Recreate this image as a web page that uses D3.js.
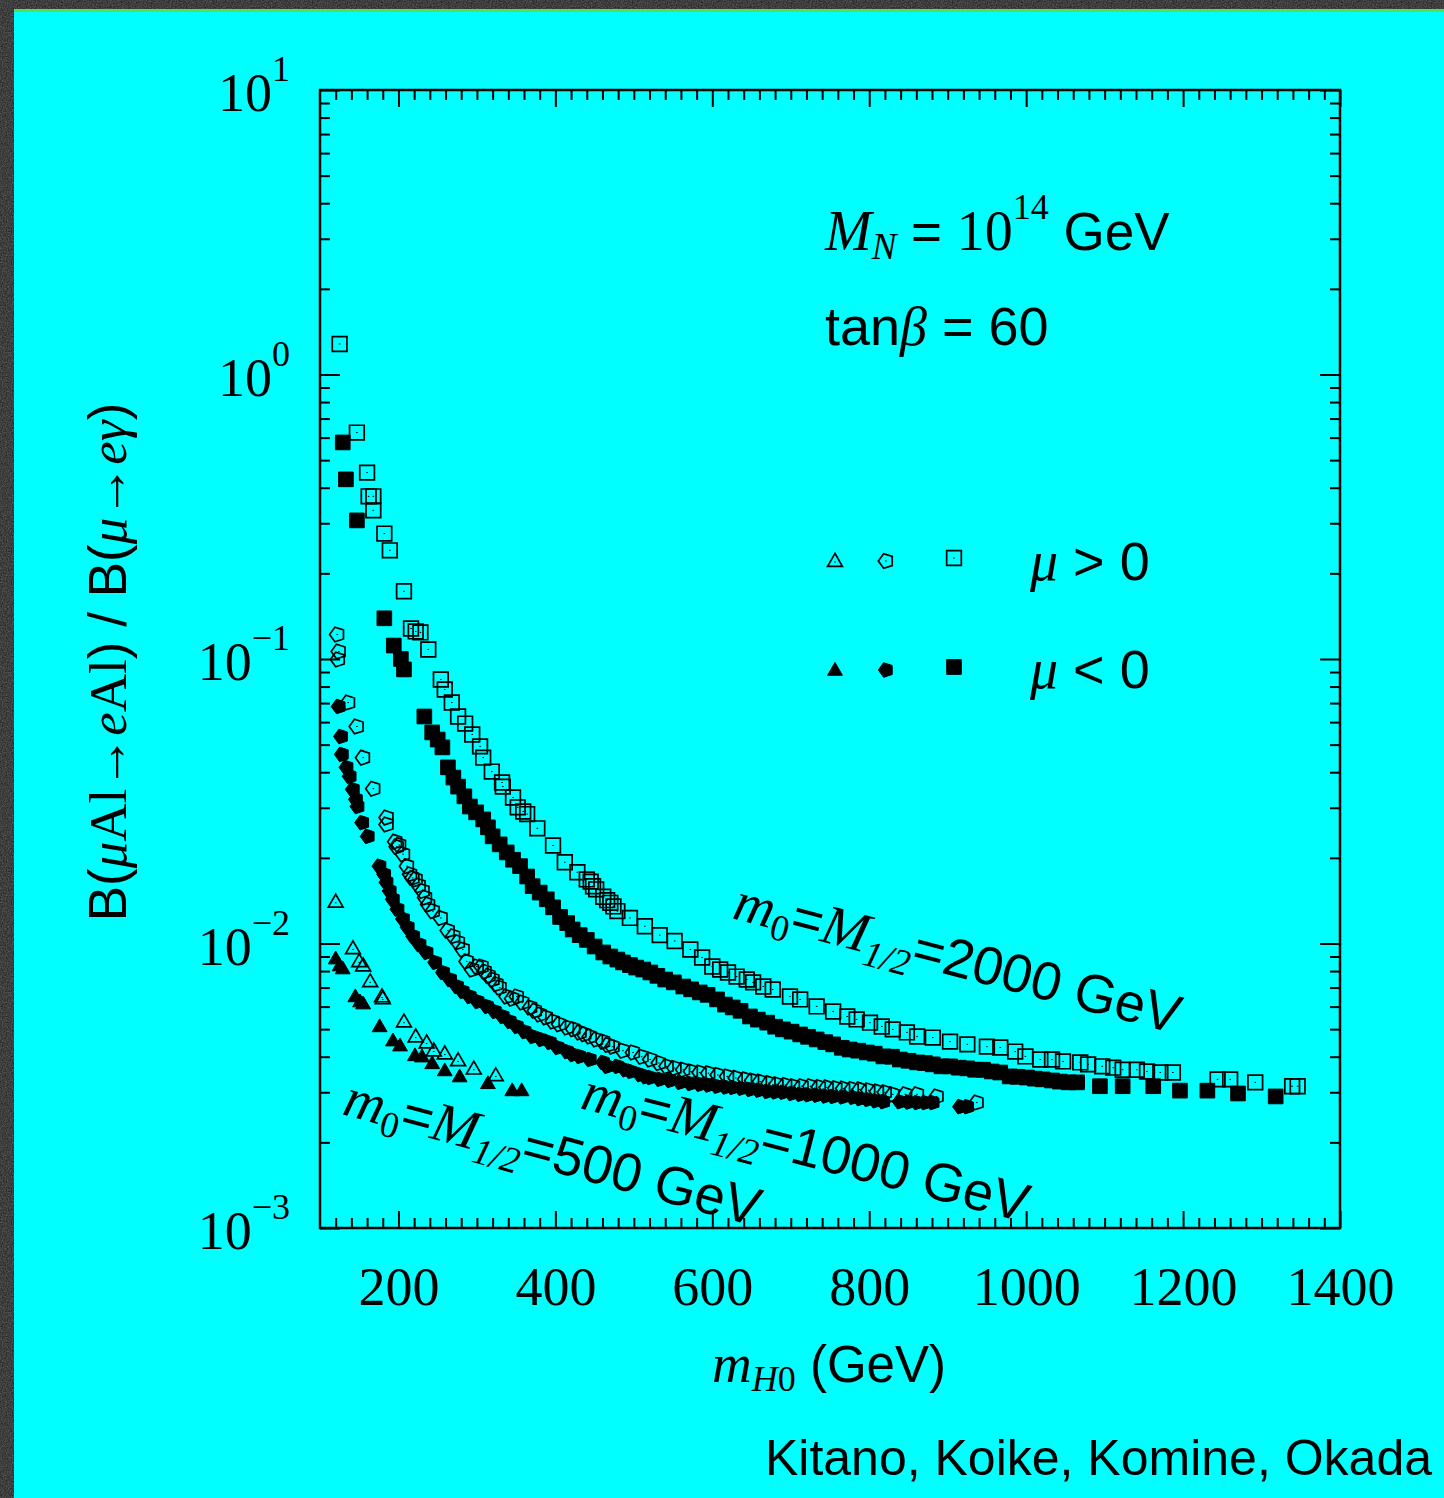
<!DOCTYPE html>
<html><head><meta charset="utf-8">
<script src="https://cdn.jsdelivr.net/npm/d3@7"></script>
<style>html,body{margin:0;padding:0;background:#3c3c3c;} svg{display:block}</style>
</head><body>
<svg id="c" width="1444" height="1498"></svg>
<script>
// ---------------- data ----------------
const xDomain = [100, 1400];
const yDomain = [1e-3, 10];
const xTickLabels = [200, 400, 600, 800, 1000, 1200, 1400];
const yTickExponents = [-3, -2, -1, 0, 1];
const legendLabels = ["μ > 0", "μ < 0"];
const curveLabels = ["500", "1000", "2000"];

// m0 = M1/2 = 2000 GeV, mu > 0 (open squares)  [mH0 (GeV), ratio]
const sq2000pos = [[125,1.28],[147,0.625],[160,0.452],[162,0.373],[168,0.373],[168,0.333],[182,0.276],[189,0.241],[207,0.173],[216,0.128],[222,0.125],[228,0.124],[238,0.108],[254,0.0847],[259,0.0781],[268,0.0703],[276,0.0628],[285,0.0593],[294,0.0543],[304,0.0493],[308,0.0450],[319,0.0402],[332,0.0368],[333,0.0356],[346,0.0326],[352,0.0301],[359,0.0291],[364,0.0285],[377,0.0254],[397,0.0221],[412,0.0193],[428,0.0178],[440,0.0168],[445,0.0165],[448,0.0159],[452,0.0155],[461,0.0146],[466,0.0142],[470,0.0139],[474,0.0135],[479,0.0130],[495,0.0123],[514,0.0115],[533,0.0107],[552,0.0102],[572,0.00953],[587,0.00893],[600,0.00830],[610,0.00810],[620,0.00791],[631,0.00765],[644,0.00747],[652,0.00730],[665,0.00706],[677,0.00689],[699,0.00651],[712,0.00636],[733,0.00601],[754,0.00577],[772,0.00554],[784,0.00541],[801,0.00527],[816,0.00511],[830,0.00499],[848,0.00487],[861,0.00471],[881,0.00467],[903,0.00452],[925,0.00442],[950,0.00434],[967,0.00431],[986,0.00417],[999,0.00401],[1018,0.00391],[1033,0.00391],[1047,0.00385],[1069,0.00382],[1079,0.00376],[1097,0.00370],[1111,0.00366],[1123,0.00360],[1141,0.00360],[1154,0.00355],[1171,0.00352],[1187,0.00352],[1244,0.00333],[1260,0.00333],[1292,0.00325],[1339,0.00315],[1346,0.00315]];

// m0 = M1/2 = 2000 GeV, mu < 0 (filled squares)
const sq2000neg = [[129,0.577],[133,0.428],[147,0.307],[182,0.139],[194,0.1115],[203,0.100],[207,0.0919],[233,0.0628],[243,0.0552],[250,0.0521],[256,0.0489],[263,0.0416],[270,0.0383],[276,0.0356],[284,0.0329],[291,0.0303],[299,0.0289],[308,0.0273],[314,0.0256],[320,0.0238],[329,0.0223],[338,0.0209],[346,0.0197],[355,0.0187],[364,0.0172],[371,0.0159],[380,0.0151],[389,0.0143],[397,0.0134],[406,0.0124],[415,0.0118],[422,0.0112],[431,0.0107],[440,0.0103],[450,0.00976],[461,0.00930],[470,0.00900],[479,0.00878],[486,0.00858],[495,0.0084],[503,0.00823],[512,0.0081],[521,0.00791],[530,0.0077],[540,0.00747],[551,0.0073],[563,0.00706],[573,0.0069],[584,0.00673],[594,0.0066],[606,0.00636],[616,0.0061],[626,0.00596],[636,0.0058],[648,0.00554],[658,0.0054],[670,0.00527],[680,0.0051],[690,0.00499],[701,0.0049],[712,0.00479],[722,0.0047],[733,0.00460],[744,0.0045],[754,0.00442],[765,0.0043],[775,0.00424],[786,0.0042],[797,0.00414],[807,0.0041],[818,0.00401],[829,0.0040],[839,0.00391],[850,0.00387],[861,0.00382],[871,0.0038],[881,0.00376],[892,0.0037],[903,0.00370],[914,0.00366],[925,0.00364],[935,0.0036],[945,0.00360],[956,0.00355],[967,0.00352],[979,0.00341],[989,0.0034],[1001,0.00338],[1011,0.00335],[1021,0.00333],[1033,0.0033],[1043,0.00327],[1054,0.00325],[1065,0.00325],[1094,0.00315],[1123,0.00315],[1162,0.00315],[1196,0.00304],[1231,0.00304],[1270,0.00297],[1318,0.00290]];

// m0 = M1/2 = 1000 GeV, mu > 0 (open pentagons)
const pent1000pos = [[122,0.122],[124,0.1062],[123,0.0996],[136,0.0703],[147,0.0579],[155,0.0450],[168,0.0350],[185,0.0277],[185,0.0262],[196,0.0228],[198,0.0219],[201,0.0222],[206,0.0206],[211,0.0187],[215,0.0175],[218,0.0170],[222,0.0168],[226,0.0160],[231,0.0153],[234,0.0145],[238,0.0137],[244,0.0130],[254,0.0123],[263,0.0111],[270,0.0106],[276,0.0101],[282,0.00953],[287,0.00865],[294,0.00810],[300,0.0083],[306,0.00830],[310,0.00797],[315,0.0077],[320,0.00747],[325,0.0072],[329,0.00700],[338,0.00651],[345,0.0064],[351,0.00651],[358,0.0062],[368,0.00596],[374,0.0058],[380,0.00563],[388,0.0055],[397,0.00532],[405,0.0052],[415,0.00507],[423,0.0050],[431,0.00487],[437,0.0048],[444,0.00471],[452,0.0046],[461,0.00452],[467,0.0044],[473,0.00434],[486,0.0042],[499,0.00414],[510,0.0040],[521,0.00391],[532,0.0038],[542,0.00370],[552,0.00365],[563,0.00360],[573,0.00355],[584,0.00352],[595,0.0035],[607,0.00345],[619,0.00341],[630,0.00337],[642,0.00333],[651,0.0033],[661,0.00327],[672,0.00323],[682,0.00320],[693,0.00318],[703,0.00315],[714,0.00315],[725,0.00315],[736,0.00313],[746,0.00312],[757,0.0031],[767,0.00309],[778,0.00308],[788,0.00307],[799,0.00305],[810,0.00302],[820,0.0030],[830,0.00295],[846,0.00295],[861,0.00295],[886,0.00290],[937,0.00276]];

// m0 = M1/2 = 1000 GeV, mu < 0 (filled pentagons)
const pent1000neg = [[124,0.0681],[127,0.0534],[128,0.0462],[134,0.0416],[138,0.0387],[142,0.0348],[146,0.0321],[148,0.0303],[154,0.0266],[161,0.0238],[176,0.0187],[182,0.0175],[185,0.0164],[189,0.0153],[193,0.0143],[199,0.0132],[206,0.0122],[212,0.0114],[219,0.0106],[227,0.00992],[236,0.00930],[247,0.00858],[257,0.00791],[266,0.00747],[275,0.00706],[282,0.00678],[291,0.00651],[301,0.00625],[313,0.00601],[323,0.00577],[333,0.00554],[342,0.00532],[351,0.00511],[361,0.00490],[371,0.00471],[382,0.00460],[393,0.00449],[403,0.00431],[415,0.00417],[422,0.00407],[431,0.00401],[444,0.00391],[461,0.00382],[466,0.00370],[479,0.00370],[489,0.00360],[496,0.00355],[508,0.00346],[515,0.0034],[521,0.00338],[533,0.00333],[546,0.0033],[559,0.00325],[572,0.00322],[584,0.00320],[595,0.00318],[606,0.00315],[617,0.00313],[626,0.00312],[637,0.0031],[648,0.00307],[659,0.00305],[670,0.00302],[680,0.00301],[690,0.00300],[701,0.00297],[712,0.00295],[722,0.00294],[733,0.00293],[744,0.00291],[754,0.00290],[766,0.00289],[779,0.00288],[788,0.00285],[798,0.00283],[808,0.0028],[818,0.00278],[839,0.00278],[850,0.00277],[861,0.00276],[871,0.00276],[881,0.00276],[916,0.00267],[925,0.00267]];

// m0 = M1/2 = 500 GeV, mu > 0 (open triangles)
const tri500pos = [[120,0.0139],[142,0.00953],[150,0.00858],[155,0.00830],[164,0.00730],[179,0.00646],[180,0.00636],[207,0.00527],[222,0.00467],[236,0.00445],[245,0.00417],[259,0.00407],[276,0.00385],[296,0.00360],[324,0.00341]];

// m0 = M1/2 = 500 GeV, mu < 0 (filled triangles)
const tri500neg = [[120,0.00878],[125,0.00830],[129,0.00810],[145,0.00646],[151,0.00620],[155,0.00610],[176,0.00507],[193,0.00452],[202,0.00434],[221,0.00401],[230,0.00397],[243,0.00376],[259,0.00355],[278,0.00338],[314,0.00320],[345,0.00302],[357,0.00302]];

// ---------------- drawing ----------------
const SERIF = "'Liberation Serif','Times New Roman',serif";
const SANS = "'Liberation Sans',Arial,Helvetica,sans-serif";
const W = 1444, H = 1498;
const P = {left: 320, right: 1340, top: 90, bottom: 1228};

const svg = d3.select("#c");
const defs = svg.append("defs");
const flt = defs.append("filter").attr("id", "noise").attr("x", 0).attr("y", 0).attr("width", "100%").attr("height", "100%")
  .attr("color-interpolation-filters", "sRGB");
flt.append("feTurbulence").attr("type", "fractalNoise").attr("baseFrequency", 0.8).attr("numOctaves", 2).attr("seed", 3);
flt.append("feColorMatrix").attr("type", "matrix").attr("values", "1 0 0 0 0  1 0 0 0 0  1 0 0 0 0  0 0 0 0 1");
const ct = flt.append("feComponentTransfer");
["feFuncR", "feFuncG", "feFuncB"].forEach(f => ct.append(f).attr("type", "linear").attr("slope", 0.35).attr("intercept", 0.07));

svg.append("rect").attr("width", W).attr("height", H).attr("fill", "#3c3c3c");
svg.append("rect").attr("width", W).attr("height", H).attr("filter", "url(#noise)");
svg.append("rect").attr("x", 14).attr("y", 9).attr("width", W - 14).attr("height", 3).attr("fill", "#4be35a");
svg.append("rect").attr("x", 14).attr("y", 12).attr("width", W - 14).attr("height", H - 12).attr("fill", "#00ffff");

const x = d3.scaleLinear().domain(xDomain).range([P.left, P.right]);
const y = d3.scaleLog().domain(yDomain).range([P.bottom, P.top]);

function rich(parent, px, py, parts, anchor, transform) {
  const t = parent.append("text").attr("x", px).attr("y", py).attr("text-anchor", anchor || "start").attr("fill", "#000");
  if (transform) t.attr("transform", transform);
  parts.forEach(p => {
    const s = t.append("tspan").text(p.t).attr("font-family", p.f === "serif" ? SERIF : SANS).attr("font-size", p.s);
    if (p.i) s.attr("font-style", "italic");
    if (p.dy) s.attr("dy", p.dy);
  });
  return t;
}

// axes
const xMinor = d3.range(120, 1400, 20).filter(v => v % 200 !== 0);
const yMinor = [];
yTickExponents.slice(0, -1).forEach(e => { for (let m = 2; m <= 9; m++) yMinor.push(m * Math.pow(10, e)); });
const yMajor = yTickExponents.map(e => Math.pow(10, e));

function styleAxis(g) {
  g.select(".domain").remove();
  g.selectAll(".tick line").attr("stroke", "#000").attr("stroke-width", 2);
}
svg.append("g").attr("transform", `translate(0,${P.bottom})`)
  .call(d3.axisBottom(x).tickValues(xTickLabels).tickSize(-17).tickSizeOuter(0).tickPadding(39).tickFormat(d3.format("d")))
  .call(styleAxis)
  .call(g => g.selectAll("text").attr("font-family", SERIF).attr("font-size", 54).attr("fill", "#000"));
svg.append("g").attr("transform", `translate(0,${P.bottom})`)
  .call(d3.axisBottom(x).tickValues(xMinor).tickSize(-10).tickSizeOuter(0).tickFormat(""))
  .call(styleAxis);
svg.append("g").attr("transform", `translate(0,${P.top})`)
  .call(d3.axisTop(x).tickValues(xTickLabels).tickSize(-17).tickSizeOuter(0).tickFormat(""))
  .call(styleAxis);
svg.append("g").attr("transform", `translate(0,${P.top})`)
  .call(d3.axisTop(x).tickValues(xMinor).tickSize(-10).tickSizeOuter(0).tickFormat(""))
  .call(styleAxis);
svg.append("g").attr("transform", `translate(${P.left},0)`)
  .call(d3.axisLeft(y).tickValues(yMajor).tickSize(-20).tickSizeOuter(0).tickFormat(""))
  .call(styleAxis);
svg.append("g").attr("transform", `translate(${P.left},0)`)
  .call(d3.axisLeft(y).tickValues(yMinor).tickSize(-10).tickSizeOuter(0).tickFormat(""))
  .call(styleAxis);
svg.append("g").attr("transform", `translate(${P.right},0)`)
  .call(d3.axisRight(y).tickValues(yMajor).tickSize(-20).tickSizeOuter(0).tickFormat(""))
  .call(styleAxis);
svg.append("g").attr("transform", `translate(${P.right},0)`)
  .call(d3.axisRight(y).tickValues(yMinor).tickSize(-10).tickSizeOuter(0).tickFormat(""))
  .call(styleAxis);

svg.append("rect").attr("x", P.left).attr("y", P.top).attr("width", P.right - P.left).attr("height", P.bottom - P.top)
  .attr("fill", "none").attr("stroke", "#000").attr("stroke-width", 2.5);

// y tick labels 10^n
yTickExponents.forEach(e => {
  rich(svg, 290, y(Math.pow(10, e)) + 21, [
    {t: "10", f: "serif", s: 54},
    {t: e < 0 ? "\u2212" + (-e) : String(e), f: "serif", s: 36, dy: -30}
  ], "end");
});

// axis titles
rich(svg, 0, 0, [
  {t: "B(", f: "sans", s: 53}, {t: "μ", f: "serif", i: 1, s: 53}, {t: "Al", f: "serif", s: 53},
  {t: "→", f: "serif", s: 53}, {t: "e", f: "serif", i: 1, s: 53}, {t: "Al", f: "serif", s: 53},
  {t: ") / B(", f: "sans", s: 53}, {t: "μ", f: "serif", i: 1, s: 53}, {t: "→", f: "serif", s: 53},
  {t: "eγ", f: "serif", i: 1, s: 53}, {t: ")", f: "sans", s: 53}
], "middle", `translate(126,662) rotate(-90)`);

rich(svg, 829, 1382, [
  {t: "m", f: "serif", i: 1, s: 55}, {t: "H", f: "serif", i: 1, s: 36, dy: 9}, {t: "0", f: "serif", s: 36},
  {t: " (GeV)", f: "sans", s: 51, dy: -9}
], "middle");

// markers
const symPentagon = {
  draw(ctx, size) {
    const r = Math.sqrt(size / (2.5 * Math.sin(2 * Math.PI / 5)));
    for (let i = 0; i < 5; i++) {
      const a = Math.PI + i * 2 * Math.PI / 5;
      const px = r * Math.cos(a), py = r * Math.sin(a);
      if (i) ctx.lineTo(px, py); else ctx.moveTo(px, py);
    }
    ctx.closePath();
  }
};
const shapes = {
  triangle: d3.symbol().type(d3.symbolTriangle).size(95),
  pentagon: d3.symbol().type(symPentagon).size(140),
  square: d3.symbol().type(d3.symbolSquare).size(215)
};
const series = [
  {data: tri500pos, shape: "triangle", filled: false},
  {data: pent1000pos, shape: "pentagon", filled: false},
  {data: sq2000pos, shape: "square", filled: false},
  {data: tri500neg, shape: "triangle", filled: true},
  {data: pent1000neg, shape: "pentagon", filled: true},
  {data: sq2000neg, shape: "square", filled: true}
];
function drawMarker(g, shape, filled, cx, cy) {
  g.append("path").attr("d", shapes[shape]()).attr("transform", `translate(${cx},${cy})`)
    .attr("fill", filled ? "#000" : "none").attr("stroke", "#000").attr("stroke-width", filled ? 1 : 1.7);
  if (!filled) g.append("rect").attr("x", cx - 0.8).attr("y", cy - 0.5).attr("width", 1.6).attr("height", 1).attr("fill", "#000");
}
const gm = svg.append("g");
series.forEach(s => {
  s.data.forEach(d => drawMarker(gm, s.shape, s.filled, x(d[0]), y(d[1])));
});

// annotations
rich(svg, 825, 250, [
  {t: "M", f: "serif", i: 1, s: 56}, {t: "N", f: "serif", i: 1, s: 37, dy: 9},
  {t: " = ", f: "sans", s: 53, dy: -9}, {t: "10", f: "serif", s: 56},
  {t: "14", f: "serif", s: 36, dy: -31}, {t: " GeV", f: "sans", s: 53, dy: 31}
]);
rich(svg, 825, 345, [
  {t: "tan", f: "sans", s: 54}, {t: "β", f: "serif", i: 1, s: 54}, {t: " = 60", f: "sans", s: 54}
]);

// legend
const legendRows = [
  {label: legendLabels[0], filled: false, yy: 560, ty: 580},
  {label: legendLabels[1], filled: true, yy: 669, ty: 688}
];
legendRows.forEach(r => {
  drawMarker(svg, "triangle", r.filled, 835, r.yy + 2);
  drawMarker(svg, "pentagon", r.filled, 886, r.yy + 1);
  drawMarker(svg, "square", r.filled, 954, r.yy - 2);
  rich(svg, 1030, r.ty, [
    {t: r.label.slice(0, 1), f: "serif", i: 1, s: 56}, {t: r.label.slice(1), f: "sans", s: 54}
  ]);
});

// curve labels
const curveLabelPos = [
  {v: curveLabels[0], x: 341, y: 1114, a: 15.2},
  {v: curveLabels[1], x: 579, y: 1108, a: 14.4},
  {v: curveLabels[2], x: 731, y: 918, a: 14.6}
];
curveLabelPos.forEach(c => {
  rich(svg, 0, 0, [
    {t: "m", f: "serif", i: 1, s: 56}, {t: "0", f: "serif", s: 37, dy: 10},
    {t: "=", f: "sans", s: 54, dy: -10}, {t: "M", f: "serif", i: 1, s: 56},
    {t: "1/2", f: "serif", i: 1, s: 37, dy: 12}, {t: "=" + c.v + " GeV", f: "sans", s: 54, dy: -12}
  ], "start", `translate(${c.x},${c.y}) rotate(${c.a})`);
});

rich(svg, 1432, 1475, [{t: "Kitano, Koike, Komine, Okada", f: "sans", s: 50}], "end");
</script>
</body></html>
